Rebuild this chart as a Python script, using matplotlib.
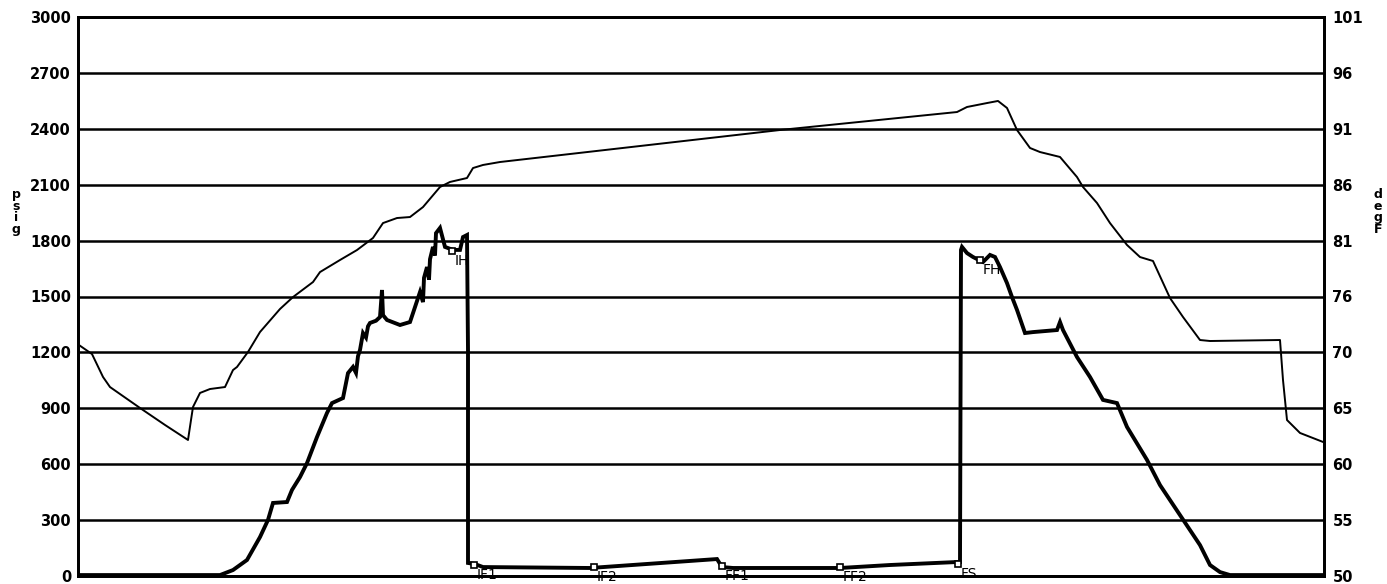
"""Drill stem test chart: pressure (psig) and temperature (degF) vs elapsed time."""

import matplotlib
matplotlib.use('Agg')
import matplotlib.pyplot as plt
import numpy as np

# elapsed time (min) and gauge pressure (psig)
press_t = [0, 71, 77.5, 84.5, 91, 95, 97.5, 104.5, 107, 111, 114.5, 119.5, 124.5,
           127, 132.5, 135, 137.5, 139, 140, 141, 142.5, 144, 145, 146, 149, 151,
           152, 152.5, 154.5, 161, 166, 167.5, 171, 172.5, 173, 174.5, 175.5, 176,
           177.5, 178.5, 179, 181, 183.5, 187.5, 191, 192.5, 194.5, 195, 195,
           198.5, 202.5, 256, 319.5, 322, 327.5, 381, 406, 439.5, 441, 441.5, 442,
           444.5, 447.5, 452.5, 456, 458.5, 461, 464.5, 467, 469.5, 473.5, 477.5,
           489.5, 491, 492.5, 499.5, 506, 512.5, 519.5, 524.5, 534.5, 541, 551,
           561, 566, 571, 576, 623]
press_psig = [5, 5, 32, 86, 209, 301, 392, 397, 462, 531, 606, 746, 875,
              928, 955, 1089, 1122, 1090, 1180, 1213, 1304, 1280, 1340, 1358, 1370, 1390,
              1535, 1400, 1374, 1347, 1363, 1411, 1524, 1470, 1600, 1658, 1590, 1700,
              1766, 1720, 1840, 1868, 1766, 1750, 1750, 1819, 1830, 1213, 70,
              64, 48, 43, 91, 48, 43, 43, 59, 75, 75, 1750, 1766,
              1733, 1712, 1685, 1723, 1712, 1658, 1572, 1497, 1428, 1304, 1309,
              1320, 1363, 1320, 1175, 1068, 945, 928, 800, 623, 488, 327,
              166, 59, 21, 5, 5]

# elapsed time (min) and gauge temperature (degF)
temp_t = [0.5, 7, 12.5, 16, 31, 43.5, 55, 56.5, 57.5, 61, 66, 73.5, 77.5, 79.5,
          85, 91, 101, 107.5, 117.5, 121, 131, 139.5, 147.5, 152.5, 159.5, 166,
          172.5, 181, 186, 194.5, 197.5, 202.5, 211, 351, 439.5, 444.5, 454.5,
          460, 464.5, 469.5, 476, 481, 491, 499.5, 502.5, 509.5, 516, 524.5, 531,
          537.5, 546, 552.5, 561, 566, 601, 602.5, 604.5, 611, 622.5]
temp_degf = [71.07, 70.25, 68.16, 67.24, 65.33, 63.78, 62.41, 64.23, 65.42, 66.70,
             67.06, 67.24, 68.79, 69.07, 70.44, 72.26, 74.36, 75.45, 76.82, 77.73,
             78.83, 79.74, 80.84, 82.20, 82.66, 82.75, 83.66, 85.49, 85.95, 86.31,
             87.22, 87.50, 87.77, 90.69, 92.33, 92.79, 93.15, 93.34, 92.70, 90.69,
             89.05, 88.68, 88.23, 86.40, 85.49, 84.03, 82.20, 80.20, 79.10, 78.74,
             75.36, 73.63, 71.53, 71.44, 71.53, 67.88, 64.23, 63.05, 62.23]

# test events
event_labels = ['IH', 'IF1', 'IF2', 'FF1', 'FF2', 'FS', 'FH']
event_t = [187, 198, 258, 322, 381, 440, 451]
event_psig = [1744, 59, 48, 54, 48, 64, 1696]

psig_ticks = [0, 300, 600, 900, 1200, 1500, 1800, 2100, 2400, 2700, 3000]
degf_tick_labels = ['50', '55', '60', '65', '70', '76', '81', '86', '91', '96', '101']

fig = plt.figure(figsize=(13.87, 5.84), dpi=100)
ax = fig.add_axes([78 / 1387, 8 / 584, 1246 / 1387, 559 / 584])
ax2 = ax.twinx()

ax.plot(press_t, press_psig, color='black', linewidth=2.8, solid_joinstyle='miter')
ax2.plot(temp_t, temp_degf, color='black', linewidth=1.4)

ax.plot(event_t, event_psig, linestyle='none', marker='s', markersize=5,
        markerfacecolor='white', markeredgecolor='black', markeredgewidth=1.2, zorder=5)
for lab, t, p in zip(event_labels, event_t, event_psig):
    ax.annotate(lab, (t, p), xytext=(2, -2), textcoords='offset points',
                ha='left', va='top', fontsize=10, annotation_clip=False, zorder=6)

ax.set_xlim(0, 623)
ax.set_ylim(0, 3000)
ax2.set_ylim(50, 101)
ax.set_xticks([])
ax.set_yticks(psig_ticks)
ax.set_yticklabels([str(v) for v in psig_ticks], fontsize=10.5, fontweight='bold')
ax2.set_yticks(np.linspace(50, 101, 11))
ax2.set_yticklabels(degf_tick_labels, fontsize=10.5, fontweight='bold')
ax.tick_params(axis='y', length=0, pad=5)
ax2.tick_params(axis='y', length=0, pad=6)

ax.grid(True, axis='y', color='black', linewidth=1.8)
ax.set_axisbelow(True)
for a in (ax, ax2):
    for s in a.spines.values():
        s.set_linewidth(2)
        s.set_color('black')

fig.text(16 / 1387, 1 - 212 / 584, 'p\ns\ni\ng', ha='center', va='center',
         fontsize=9, fontweight='bold', linespacing=0.85)
fig.text(1378 / 1387, 1 - 212 / 584, 'd\ne\ng\nF', ha='center', va='center',
         fontsize=9, fontweight='bold', linespacing=0.85)

fig.savefig('out.png', dpi=100)
